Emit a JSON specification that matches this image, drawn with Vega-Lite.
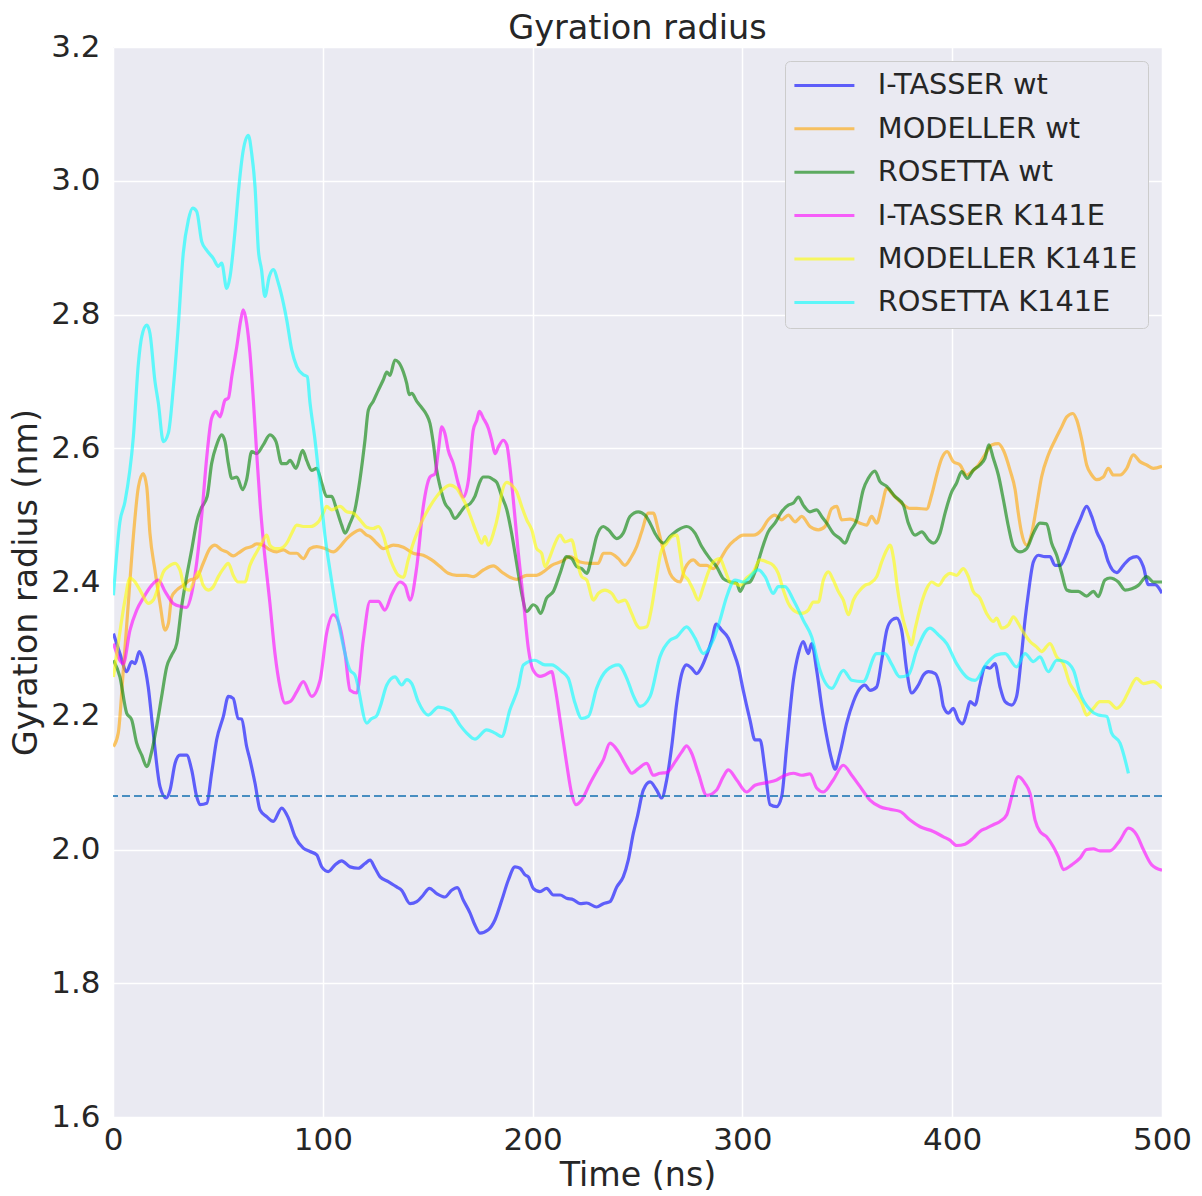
{
  "$schema": "https://vega.github.io/schema/vega-lite/v6.json",
  "width": 1049,
  "height": 1070,
  "autosize": {"type": "none"},
  "padding": {"left": 113, "top": 47, "right": 40, "bottom": 79},
  "background": "white",
  "title": {"text": "Gyration radius", "font": "DejaVu Sans", "fontSize": 33.5, "fontWeight": "normal", "color": "#262626", "offset": -15},
  "config": {
    "view": {"fill": "#EAEAF2", "stroke": null},
    "axis": {
      "domain": false, "ticks": false, "grid": true, "gridColor": "#ffffff", "gridWidth": 1.5,
      "labelFont": "DejaVu Sans", "labelFontSize": 31, "labelColor": "#262626", "labelFlush": false, "labelOverlap": false,
      "titleFont": "DejaVu Sans", "titleFontSize": 33.3, "titleFontWeight": "normal", "titleColor": "#262626"
    },
    "legend": {
      "orient": "top-right", "offset": 14, "padding": 10,
      "fillColor": "#EAEAF2", "strokeColor": "#cccccc", "cornerRadius": 5,
      "labelFont": "DejaVu Sans", "labelFontSize": 28.8, "labelColor": "#262626", "labelLimit": 500,
      "symbolType": "M-1.5,0H4.5", "symbolSize": 400, "symbolStrokeWidth": 3, "symbolOpacity": 0.6,
      "labelOffset": 54, "rowPadding": 13.4
    }
  },
  "datasets": {
    "rg": [
      {"model": "I-TASSER wt", "time": 0.2, "rg": 2.323}, {"model": "I-TASSER wt", "time": 3.3, "rg": 2.293}, {"model": "I-TASSER wt", "time": 6.5, "rg": 2.266}, {"model": "I-TASSER wt", "time": 8.9, "rg": 2.281}, {"model": "I-TASSER wt", "time": 10.5, "rg": 2.278}, {"model": "I-TASSER wt", "time": 12.5, "rg": 2.296}, {"model": "I-TASSER wt", "time": 14.4, "rg": 2.283}, {"model": "I-TASSER wt", "time": 16.8, "rg": 2.243}, {"model": "I-TASSER wt", "time": 19.2, "rg": 2.174}, {"model": "I-TASSER wt", "time": 22.4, "rg": 2.094}, {"model": "I-TASSER wt", "time": 25.3, "rg": 2.077}, {"model": "I-TASSER wt", "time": 27.2, "rg": 2.089}, {"model": "I-TASSER wt", "time": 29.6, "rg": 2.129}, {"model": "I-TASSER wt", "time": 31.9, "rg": 2.141}, {"model": "I-TASSER wt", "time": 35.1, "rg": 2.141}, {"model": "I-TASSER wt", "time": 37.5, "rg": 2.119}, {"model": "I-TASSER wt", "time": 39.9, "rg": 2.079}, {"model": "I-TASSER wt", "time": 41.5, "rg": 2.067}, {"model": "I-TASSER wt", "time": 44.7, "rg": 2.069}, {"model": "I-TASSER wt", "time": 47.0, "rg": 2.114}, {"model": "I-TASSER wt", "time": 49.4, "rg": 2.164}, {"model": "I-TASSER wt", "time": 52.6, "rg": 2.199}, {"model": "I-TASSER wt", "time": 55.0, "rg": 2.229}, {"model": "I-TASSER wt", "time": 57.3, "rg": 2.226}, {"model": "I-TASSER wt", "time": 59.7, "rg": 2.196}, {"model": "I-TASSER wt", "time": 61.3, "rg": 2.195}, {"model": "I-TASSER wt", "time": 63.7, "rg": 2.154}, {"model": "I-TASSER wt", "time": 65.3, "rg": 2.134}, {"model": "I-TASSER wt", "time": 67.7, "rg": 2.099}, {"model": "I-TASSER wt", "time": 70.1, "rg": 2.059}, {"model": "I-TASSER wt", "time": 73.3, "rg": 2.049}, {"model": "I-TASSER wt", "time": 76.4, "rg": 2.042}, {"model": "I-TASSER wt", "time": 80.4, "rg": 2.062}, {"model": "I-TASSER wt", "time": 83.6, "rg": 2.047}, {"model": "I-TASSER wt", "time": 86.8, "rg": 2.019}, {"model": "I-TASSER wt", "time": 90.7, "rg": 2.002}, {"model": "I-TASSER wt", "time": 93.9, "rg": 1.997}, {"model": "I-TASSER wt", "time": 97.1, "rg": 1.992}, {"model": "I-TASSER wt", "time": 99.5, "rg": 1.974}, {"model": "I-TASSER wt", "time": 102.6, "rg": 1.967}, {"model": "I-TASSER wt", "time": 105.8, "rg": 1.977}, {"model": "I-TASSER wt", "time": 109.0, "rg": 1.983}, {"model": "I-TASSER wt", "time": 113.0, "rg": 1.974}, {"model": "I-TASSER wt", "time": 116.9, "rg": 1.972}, {"model": "I-TASSER wt", "time": 120.1, "rg": 1.979}, {"model": "I-TASSER wt", "time": 122.5, "rg": 1.984}, {"model": "I-TASSER wt", "time": 124.9, "rg": 1.972}, {"model": "I-TASSER wt", "time": 127.3, "rg": 1.959}, {"model": "I-TASSER wt", "time": 131.2, "rg": 1.952}, {"model": "I-TASSER wt", "time": 135.2, "rg": 1.944}, {"model": "I-TASSER wt", "time": 137.6, "rg": 1.939}, {"model": "I-TASSER wt", "time": 141.6, "rg": 1.919}, {"model": "I-TASSER wt", "time": 144.8, "rg": 1.922}, {"model": "I-TASSER wt", "time": 147.9, "rg": 1.932}, {"model": "I-TASSER wt", "time": 150.8, "rg": 1.942}, {"model": "I-TASSER wt", "time": 154.3, "rg": 1.934}, {"model": "I-TASSER wt", "time": 158.2, "rg": 1.929}, {"model": "I-TASSER wt", "time": 161.4, "rg": 1.939}, {"model": "I-TASSER wt", "time": 164.1, "rg": 1.943}, {"model": "I-TASSER wt", "time": 167.0, "rg": 1.924}, {"model": "I-TASSER wt", "time": 170.2, "rg": 1.905}, {"model": "I-TASSER wt", "time": 172.5, "rg": 1.887}, {"model": "I-TASSER wt", "time": 174.9, "rg": 1.875}, {"model": "I-TASSER wt", "time": 178.9, "rg": 1.88}, {"model": "I-TASSER wt", "time": 182.1, "rg": 1.895}, {"model": "I-TASSER wt", "time": 185.3, "rg": 1.924}, {"model": "I-TASSER wt", "time": 188.4, "rg": 1.954}, {"model": "I-TASSER wt", "time": 191.6, "rg": 1.974}, {"model": "I-TASSER wt", "time": 194.0, "rg": 1.972}, {"model": "I-TASSER wt", "time": 196.4, "rg": 1.962}, {"model": "I-TASSER wt", "time": 198.0, "rg": 1.959}, {"model": "I-TASSER wt", "time": 200.3, "rg": 1.942}, {"model": "I-TASSER wt", "time": 203.5, "rg": 1.937}, {"model": "I-TASSER wt", "time": 206.7, "rg": 1.942}, {"model": "I-TASSER wt", "time": 209.9, "rg": 1.932}, {"model": "I-TASSER wt", "time": 213.1, "rg": 1.932}, {"model": "I-TASSER wt", "time": 216.2, "rg": 1.927}, {"model": "I-TASSER wt", "time": 219.4, "rg": 1.925}, {"model": "I-TASSER wt", "time": 222.6, "rg": 1.919}, {"model": "I-TASSER wt", "time": 225.8, "rg": 1.92}, {"model": "I-TASSER wt", "time": 230.5, "rg": 1.914}, {"model": "I-TASSER wt", "time": 233.7, "rg": 1.919}, {"model": "I-TASSER wt", "time": 236.9, "rg": 1.922}, {"model": "I-TASSER wt", "time": 240.1, "rg": 1.944}, {"model": "I-TASSER wt", "time": 243.2, "rg": 1.959}, {"model": "I-TASSER wt", "time": 245.6, "rg": 1.984}, {"model": "I-TASSER wt", "time": 248.0, "rg": 2.024}, {"model": "I-TASSER wt", "time": 250.0, "rg": 2.05}, {"model": "I-TASSER wt", "time": 252.8, "rg": 2.089}, {"model": "I-TASSER wt", "time": 256.0, "rg": 2.101}, {"model": "I-TASSER wt", "time": 259.1, "rg": 2.089}, {"model": "I-TASSER wt", "time": 261.5, "rg": 2.077}, {"model": "I-TASSER wt", "time": 263.9, "rg": 2.104}, {"model": "I-TASSER wt", "time": 266.3, "rg": 2.154}, {"model": "I-TASSER wt", "time": 268.7, "rg": 2.219}, {"model": "I-TASSER wt", "time": 271.1, "rg": 2.263}, {"model": "I-TASSER wt", "time": 273.4, "rg": 2.276}, {"model": "I-TASSER wt", "time": 275.8, "rg": 2.271}, {"model": "I-TASSER wt", "time": 278.2, "rg": 2.263}, {"model": "I-TASSER wt", "time": 280.6, "rg": 2.273}, {"model": "I-TASSER wt", "time": 283.0, "rg": 2.291}, {"model": "I-TASSER wt", "time": 285.4, "rg": 2.313}, {"model": "I-TASSER wt", "time": 287.5, "rg": 2.337}, {"model": "I-TASSER wt", "time": 290.1, "rg": 2.328}, {"model": "I-TASSER wt", "time": 293.3, "rg": 2.316}, {"model": "I-TASSER wt", "time": 295.7, "rg": 2.296}, {"model": "I-TASSER wt", "time": 298.1, "rg": 2.273}, {"model": "I-TASSER wt", "time": 300.4, "rg": 2.238}, {"model": "I-TASSER wt", "time": 303.6, "rg": 2.194}, {"model": "I-TASSER wt", "time": 306.0, "rg": 2.164}, {"model": "I-TASSER wt", "time": 308.4, "rg": 2.164}, {"model": "I-TASSER wt", "time": 310.8, "rg": 2.119}, {"model": "I-TASSER wt", "time": 313.2, "rg": 2.067}, {"model": "I-TASSER wt", "time": 316.3, "rg": 2.064}, {"model": "I-TASSER wt", "time": 318.7, "rg": 2.079}, {"model": "I-TASSER wt", "time": 321.1, "rg": 2.154}, {"model": "I-TASSER wt", "time": 324.3, "rg": 2.253}, {"model": "I-TASSER wt", "time": 326.7, "rg": 2.293}, {"model": "I-TASSER wt", "time": 329.0, "rg": 2.311}, {"model": "I-TASSER wt", "time": 331.4, "rg": 2.293}, {"model": "I-TASSER wt", "time": 333.0, "rg": 2.308}, {"model": "I-TASSER wt", "time": 335.4, "rg": 2.268}, {"model": "I-TASSER wt", "time": 337.8, "rg": 2.214}, {"model": "I-TASSER wt", "time": 340.2, "rg": 2.169}, {"model": "I-TASSER wt", "time": 342.6, "rg": 2.134}, {"model": "I-TASSER wt", "time": 344.1, "rg": 2.12}, {"model": "I-TASSER wt", "time": 346.5, "rg": 2.144}, {"model": "I-TASSER wt", "time": 349.7, "rg": 2.189}, {"model": "I-TASSER wt", "time": 352.9, "rg": 2.221}, {"model": "I-TASSER wt", "time": 356.1, "rg": 2.241}, {"model": "I-TASSER wt", "time": 358.4, "rg": 2.246}, {"model": "I-TASSER wt", "time": 360.8, "rg": 2.238}, {"model": "I-TASSER wt", "time": 364.0, "rg": 2.243}, {"model": "I-TASSER wt", "time": 366.4, "rg": 2.283}, {"model": "I-TASSER wt", "time": 368.8, "rg": 2.328}, {"model": "I-TASSER wt", "time": 371.2, "rg": 2.343}, {"model": "I-TASSER wt", "time": 373.5, "rg": 2.346}, {"model": "I-TASSER wt", "time": 375.9, "rg": 2.328}, {"model": "I-TASSER wt", "time": 378.3, "rg": 2.268}, {"model": "I-TASSER wt", "time": 380.7, "rg": 2.234}, {"model": "I-TASSER wt", "time": 383.9, "rg": 2.246}, {"model": "I-TASSER wt", "time": 386.3, "rg": 2.261}, {"model": "I-TASSER wt", "time": 388.7, "rg": 2.266}, {"model": "I-TASSER wt", "time": 391.9, "rg": 2.263}, {"model": "I-TASSER wt", "time": 394.2, "rg": 2.243}, {"model": "I-TASSER wt", "time": 395.8, "rg": 2.214}, {"model": "I-TASSER wt", "time": 398.2, "rg": 2.204}, {"model": "I-TASSER wt", "time": 400.5, "rg": 2.211}, {"model": "I-TASSER wt", "time": 402.9, "rg": 2.194}, {"model": "I-TASSER wt", "time": 405.0, "rg": 2.188}, {"model": "I-TASSER wt", "time": 406.9, "rg": 2.204}, {"model": "I-TASSER wt", "time": 408.5, "rg": 2.221}, {"model": "I-TASSER wt", "time": 410.9, "rg": 2.216}, {"model": "I-TASSER wt", "time": 413.2, "rg": 2.246}, {"model": "I-TASSER wt", "time": 415.6, "rg": 2.273}, {"model": "I-TASSER wt", "time": 418.0, "rg": 2.271}, {"model": "I-TASSER wt", "time": 420.4, "rg": 2.278}, {"model": "I-TASSER wt", "time": 422.8, "rg": 2.243}, {"model": "I-TASSER wt", "time": 425.2, "rg": 2.221}, {"model": "I-TASSER wt", "time": 428.4, "rg": 2.216}, {"model": "I-TASSER wt", "time": 430.7, "rg": 2.229}, {"model": "I-TASSER wt", "time": 433.1, "rg": 2.293}, {"model": "I-TASSER wt", "time": 434.7, "rg": 2.343}, {"model": "I-TASSER wt", "time": 436.3, "rg": 2.383}, {"model": "I-TASSER wt", "time": 438.7, "rg": 2.43}, {"model": "I-TASSER wt", "time": 441.1, "rg": 2.44}, {"model": "I-TASSER wt", "time": 444.2, "rg": 2.438}, {"model": "I-TASSER wt", "time": 446.6, "rg": 2.438}, {"model": "I-TASSER wt", "time": 449.0, "rg": 2.425}, {"model": "I-TASSER wt", "time": 451.4, "rg": 2.425}, {"model": "I-TASSER wt", "time": 454.6, "rg": 2.443}, {"model": "I-TASSER wt", "time": 457.7, "rg": 2.47}, {"model": "I-TASSER wt", "time": 460.9, "rg": 2.493}, {"model": "I-TASSER wt", "time": 464.1, "rg": 2.513}, {"model": "I-TASSER wt", "time": 466.5, "rg": 2.498}, {"model": "I-TASSER wt", "time": 468.9, "rg": 2.475}, {"model": "I-TASSER wt", "time": 472.0, "rg": 2.455}, {"model": "I-TASSER wt", "time": 474.4, "rg": 2.43}, {"model": "I-TASSER wt", "time": 478.4, "rg": 2.414}, {"model": "I-TASSER wt", "time": 481.6, "rg": 2.425}, {"model": "I-TASSER wt", "time": 484.7, "rg": 2.435}, {"model": "I-TASSER wt", "time": 487.9, "rg": 2.438}, {"model": "I-TASSER wt", "time": 491.1, "rg": 2.423}, {"model": "I-TASSER wt", "time": 493.5, "rg": 2.396}, {"model": "I-TASSER wt", "time": 496.7, "rg": 2.396}, {"model": "I-TASSER wt", "time": 500.0, "rg": 2.383},

      {"model": "MODELLER wt", "time": 0.2, "rg": 2.154}, {"model": "MODELLER wt", "time": 2.5, "rg": 2.174}, {"model": "MODELLER wt", "time": 4.9, "rg": 2.268}, {"model": "MODELLER wt", "time": 7.3, "rg": 2.368}, {"model": "MODELLER wt", "time": 9.7, "rg": 2.468}, {"model": "MODELLER wt", "time": 12.1, "rg": 2.542}, {"model": "MODELLER wt", "time": 14.4, "rg": 2.562}, {"model": "MODELLER wt", "time": 16.1, "rg": 2.542}, {"model": "MODELLER wt", "time": 17.6, "rg": 2.473}, {"model": "MODELLER wt", "time": 20.0, "rg": 2.418}, {"model": "MODELLER wt", "time": 22.4, "rg": 2.368}, {"model": "MODELLER wt", "time": 24.8, "rg": 2.328}, {"model": "MODELLER wt", "time": 26.4, "rg": 2.338}, {"model": "MODELLER wt", "time": 28.0, "rg": 2.378}, {"model": "MODELLER wt", "time": 30.4, "rg": 2.388}, {"model": "MODELLER wt", "time": 33.5, "rg": 2.395}, {"model": "MODELLER wt", "time": 36.7, "rg": 2.403}, {"model": "MODELLER wt", "time": 39.9, "rg": 2.406}, {"model": "MODELLER wt", "time": 43.0, "rg": 2.428}, {"model": "MODELLER wt", "time": 46.2, "rg": 2.45}, {"model": "MODELLER wt", "time": 48.6, "rg": 2.455}, {"model": "MODELLER wt", "time": 51.8, "rg": 2.448}, {"model": "MODELLER wt", "time": 54.2, "rg": 2.445}, {"model": "MODELLER wt", "time": 57.3, "rg": 2.439}, {"model": "MODELLER wt", "time": 59.7, "rg": 2.443}, {"model": "MODELLER wt", "time": 62.9, "rg": 2.45}, {"model": "MODELLER wt", "time": 66.1, "rg": 2.453}, {"model": "MODELLER wt", "time": 68.5, "rg": 2.457}, {"model": "MODELLER wt", "time": 71.6, "rg": 2.455}, {"model": "MODELLER wt", "time": 74.8, "rg": 2.448}, {"model": "MODELLER wt", "time": 78.0, "rg": 2.445}, {"model": "MODELLER wt", "time": 81.2, "rg": 2.448}, {"model": "MODELLER wt", "time": 84.4, "rg": 2.443}, {"model": "MODELLER wt", "time": 87.6, "rg": 2.443}, {"model": "MODELLER wt", "time": 90.7, "rg": 2.435}, {"model": "MODELLER wt", "time": 93.9, "rg": 2.45}, {"model": "MODELLER wt", "time": 97.1, "rg": 2.453}, {"model": "MODELLER wt", "time": 101.0, "rg": 2.45}, {"model": "MODELLER wt", "time": 105.0, "rg": 2.445}, {"model": "MODELLER wt", "time": 108.2, "rg": 2.453}, {"model": "MODELLER wt", "time": 111.4, "rg": 2.465}, {"model": "MODELLER wt", "time": 114.5, "rg": 2.473}, {"model": "MODELLER wt", "time": 117.7, "rg": 2.478}, {"model": "MODELLER wt", "time": 120.9, "rg": 2.47}, {"model": "MODELLER wt", "time": 122.5, "rg": 2.468}, {"model": "MODELLER wt", "time": 125.7, "rg": 2.458}, {"model": "MODELLER wt", "time": 128.8, "rg": 2.45}, {"model": "MODELLER wt", "time": 133.6, "rg": 2.455}, {"model": "MODELLER wt", "time": 138.4, "rg": 2.452}, {"model": "MODELLER wt", "time": 143.1, "rg": 2.443}, {"model": "MODELLER wt", "time": 147.9, "rg": 2.44}, {"model": "MODELLER wt", "time": 151.9, "rg": 2.433}, {"model": "MODELLER wt", "time": 155.9, "rg": 2.423}, {"model": "MODELLER wt", "time": 159.8, "rg": 2.413}, {"model": "MODELLER wt", "time": 163.8, "rg": 2.41}, {"model": "MODELLER wt", "time": 168.6, "rg": 2.41}, {"model": "MODELLER wt", "time": 171.7, "rg": 2.408}, {"model": "MODELLER wt", "time": 176.5, "rg": 2.418}, {"model": "MODELLER wt", "time": 181.3, "rg": 2.424}, {"model": "MODELLER wt", "time": 185.3, "rg": 2.415}, {"model": "MODELLER wt", "time": 189.2, "rg": 2.407}, {"model": "MODELLER wt", "time": 192.4, "rg": 2.404}, {"model": "MODELLER wt", "time": 197.2, "rg": 2.41}, {"model": "MODELLER wt", "time": 201.9, "rg": 2.41}, {"model": "MODELLER wt", "time": 205.1, "rg": 2.415}, {"model": "MODELLER wt", "time": 209.1, "rg": 2.425}, {"model": "MODELLER wt", "time": 213.9, "rg": 2.431}, {"model": "MODELLER wt", "time": 217.8, "rg": 2.438}, {"model": "MODELLER wt", "time": 222.6, "rg": 2.43}, {"model": "MODELLER wt", "time": 227.4, "rg": 2.428}, {"model": "MODELLER wt", "time": 231.3, "rg": 2.428}, {"model": "MODELLER wt", "time": 233.7, "rg": 2.443}, {"model": "MODELLER wt", "time": 236.9, "rg": 2.443}, {"model": "MODELLER wt", "time": 240.9, "rg": 2.435}, {"model": "MODELLER wt", "time": 244.0, "rg": 2.425}, {"model": "MODELLER wt", "time": 247.0, "rg": 2.437}, {"model": "MODELLER wt", "time": 249.6, "rg": 2.453}, {"model": "MODELLER wt", "time": 252.0, "rg": 2.475}, {"model": "MODELLER wt", "time": 255.2, "rg": 2.503}, {"model": "MODELLER wt", "time": 257.5, "rg": 2.503}, {"model": "MODELLER wt", "time": 259.9, "rg": 2.478}, {"model": "MODELLER wt", "time": 262.3, "rg": 2.448}, {"model": "MODELLER wt", "time": 265.5, "rg": 2.413}, {"model": "MODELLER wt", "time": 267.9, "rg": 2.403}, {"model": "MODELLER wt", "time": 270.3, "rg": 2.4}, {"model": "MODELLER wt", "time": 272.6, "rg": 2.42}, {"model": "MODELLER wt", "time": 276.6, "rg": 2.433}, {"model": "MODELLER wt", "time": 279.8, "rg": 2.425}, {"model": "MODELLER wt", "time": 283.0, "rg": 2.425}, {"model": "MODELLER wt", "time": 286.1, "rg": 2.42}, {"model": "MODELLER wt", "time": 289.3, "rg": 2.433}, {"model": "MODELLER wt", "time": 292.5, "rg": 2.45}, {"model": "MODELLER wt", "time": 296.5, "rg": 2.463}, {"model": "MODELLER wt", "time": 300.4, "rg": 2.47}, {"model": "MODELLER wt", "time": 305.2, "rg": 2.47}, {"model": "MODELLER wt", "time": 309.2, "rg": 2.478}, {"model": "MODELLER wt", "time": 312.3, "rg": 2.493}, {"model": "MODELLER wt", "time": 315.5, "rg": 2.5}, {"model": "MODELLER wt", "time": 318.7, "rg": 2.493}, {"model": "MODELLER wt", "time": 321.9, "rg": 2.5}, {"model": "MODELLER wt", "time": 325.1, "rg": 2.49}, {"model": "MODELLER wt", "time": 328.3, "rg": 2.498}, {"model": "MODELLER wt", "time": 332.2, "rg": 2.483}, {"model": "MODELLER wt", "time": 336.2, "rg": 2.478}, {"model": "MODELLER wt", "time": 339.4, "rg": 2.483}, {"model": "MODELLER wt", "time": 342.6, "rg": 2.51}, {"model": "MODELLER wt", "time": 345.0, "rg": 2.513}, {"model": "MODELLER wt", "time": 347.3, "rg": 2.493}, {"model": "MODELLER wt", "time": 351.3, "rg": 2.494}, {"model": "MODELLER wt", "time": 356.1, "rg": 2.488}, {"model": "MODELLER wt", "time": 359.2, "rg": 2.485}, {"model": "MODELLER wt", "time": 361.6, "rg": 2.498}, {"model": "MODELLER wt", "time": 364.0, "rg": 2.488}, {"model": "MODELLER wt", "time": 366.4, "rg": 2.513}, {"model": "MODELLER wt", "time": 368.8, "rg": 2.54}, {"model": "MODELLER wt", "time": 371.9, "rg": 2.53}, {"model": "MODELLER wt", "time": 375.9, "rg": 2.518}, {"model": "MODELLER wt", "time": 379.9, "rg": 2.51}, {"model": "MODELLER wt", "time": 383.1, "rg": 2.51}, {"model": "MODELLER wt", "time": 387.8, "rg": 2.509}, {"model": "MODELLER wt", "time": 390.2, "rg": 2.53}, {"model": "MODELLER wt", "time": 392.6, "rg": 2.56}, {"model": "MODELLER wt", "time": 395.0, "rg": 2.585}, {"model": "MODELLER wt", "time": 397.6, "rg": 2.595}, {"model": "MODELLER wt", "time": 400.5, "rg": 2.58}, {"model": "MODELLER wt", "time": 403.7, "rg": 2.575}, {"model": "MODELLER wt", "time": 406.9, "rg": 2.56}, {"model": "MODELLER wt", "time": 409.3, "rg": 2.565}, {"model": "MODELLER wt", "time": 412.5, "rg": 2.575}, {"model": "MODELLER wt", "time": 415.6, "rg": 2.59}, {"model": "MODELLER wt", "time": 418.8, "rg": 2.605}, {"model": "MODELLER wt", "time": 422.0, "rg": 2.607}, {"model": "MODELLER wt", "time": 424.4, "rg": 2.597}, {"model": "MODELLER wt", "time": 427.6, "rg": 2.567}, {"model": "MODELLER wt", "time": 430.0, "rg": 2.538}, {"model": "MODELLER wt", "time": 431.5, "rg": 2.503}, {"model": "MODELLER wt", "time": 433.1, "rg": 2.473}, {"model": "MODELLER wt", "time": 435.5, "rg": 2.455}, {"model": "MODELLER wt", "time": 437.9, "rg": 2.473}, {"model": "MODELLER wt", "time": 440.2, "rg": 2.513}, {"model": "MODELLER wt", "time": 442.6, "rg": 2.557}, {"model": "MODELLER wt", "time": 445.8, "rg": 2.59}, {"model": "MODELLER wt", "time": 449.0, "rg": 2.612}, {"model": "MODELLER wt", "time": 452.2, "rg": 2.632}, {"model": "MODELLER wt", "time": 454.6, "rg": 2.647}, {"model": "MODELLER wt", "time": 457.5, "rg": 2.652}, {"model": "MODELLER wt", "time": 459.4, "rg": 2.642}, {"model": "MODELLER wt", "time": 461.8, "rg": 2.612}, {"model": "MODELLER wt", "time": 464.1, "rg": 2.575}, {"model": "MODELLER wt", "time": 466.5, "rg": 2.56}, {"model": "MODELLER wt", "time": 468.9, "rg": 2.553}, {"model": "MODELLER wt", "time": 472.0, "rg": 2.557}, {"model": "MODELLER wt", "time": 474.4, "rg": 2.57}, {"model": "MODELLER wt", "time": 476.8, "rg": 2.56}, {"model": "MODELLER wt", "time": 480.0, "rg": 2.56}, {"model": "MODELLER wt", "time": 483.2, "rg": 2.57}, {"model": "MODELLER wt", "time": 486.3, "rg": 2.59}, {"model": "MODELLER wt", "time": 489.5, "rg": 2.58}, {"model": "MODELLER wt", "time": 492.7, "rg": 2.575}, {"model": "MODELLER wt", "time": 495.9, "rg": 2.57}, {"model": "MODELLER wt", "time": 500.0, "rg": 2.573},

      {"model": "ROSETTA wt", "time": 0.2, "rg": 2.283}, {"model": "ROSETTA wt", "time": 3.3, "rg": 2.258}, {"model": "ROSETTA wt", "time": 6.5, "rg": 2.204}, {"model": "ROSETTA wt", "time": 8.9, "rg": 2.194}, {"model": "ROSETTA wt", "time": 11.3, "rg": 2.159}, {"model": "ROSETTA wt", "time": 13.7, "rg": 2.141}, {"model": "ROSETTA wt", "time": 16.1, "rg": 2.124}, {"model": "ROSETTA wt", "time": 18.4, "rg": 2.146}, {"model": "ROSETTA wt", "time": 20.8, "rg": 2.184}, {"model": "ROSETTA wt", "time": 23.2, "rg": 2.229}, {"model": "ROSETTA wt", "time": 25.6, "rg": 2.273}, {"model": "ROSETTA wt", "time": 28.0, "rg": 2.291}, {"model": "ROSETTA wt", "time": 30.4, "rg": 2.308}, {"model": "ROSETTA wt", "time": 32.7, "rg": 2.363}, {"model": "ROSETTA wt", "time": 35.1, "rg": 2.408}, {"model": "ROSETTA wt", "time": 37.5, "rg": 2.448}, {"model": "ROSETTA wt", "time": 39.9, "rg": 2.49}, {"model": "ROSETTA wt", "time": 42.0, "rg": 2.51}, {"model": "ROSETTA wt", "time": 44.9, "rg": 2.528}, {"model": "ROSETTA wt", "time": 47.0, "rg": 2.577}, {"model": "ROSETTA wt", "time": 49.4, "rg": 2.605}, {"model": "ROSETTA wt", "time": 51.8, "rg": 2.62}, {"model": "ROSETTA wt", "time": 53.4, "rg": 2.61}, {"model": "ROSETTA wt", "time": 55.0, "rg": 2.577}, {"model": "ROSETTA wt", "time": 56.6, "rg": 2.555}, {"model": "ROSETTA wt", "time": 59.0, "rg": 2.557}, {"model": "ROSETTA wt", "time": 61.8, "rg": 2.538}, {"model": "ROSETTA wt", "time": 63.7, "rg": 2.553}, {"model": "ROSETTA wt", "time": 66.1, "rg": 2.595}, {"model": "ROSETTA wt", "time": 68.5, "rg": 2.592}, {"model": "ROSETTA wt", "time": 71.6, "rg": 2.605}, {"model": "ROSETTA wt", "time": 74.8, "rg": 2.62}, {"model": "ROSETTA wt", "time": 77.7, "rg": 2.61}, {"model": "ROSETTA wt", "time": 80.4, "rg": 2.577}, {"model": "ROSETTA wt", "time": 82.8, "rg": 2.577}, {"model": "ROSETTA wt", "time": 84.4, "rg": 2.582}, {"model": "ROSETTA wt", "time": 87.2, "rg": 2.57}, {"model": "ROSETTA wt", "time": 90.4, "rg": 2.597}, {"model": "ROSETTA wt", "time": 92.3, "rg": 2.582}, {"model": "ROSETTA wt", "time": 94.7, "rg": 2.567}, {"model": "ROSETTA wt", "time": 97.1, "rg": 2.57}, {"model": "ROSETTA wt", "time": 99.5, "rg": 2.548}, {"model": "ROSETTA wt", "time": 101.8, "rg": 2.528}, {"model": "ROSETTA wt", "time": 104.2, "rg": 2.528}, {"model": "ROSETTA wt", "time": 106.6, "rg": 2.508}, {"model": "ROSETTA wt", "time": 109.0, "rg": 2.485}, {"model": "ROSETTA wt", "time": 110.6, "rg": 2.473}, {"model": "ROSETTA wt", "time": 113.0, "rg": 2.488}, {"model": "ROSETTA wt", "time": 115.3, "rg": 2.508}, {"model": "ROSETTA wt", "time": 117.7, "rg": 2.553}, {"model": "ROSETTA wt", "time": 120.1, "rg": 2.612}, {"model": "ROSETTA wt", "time": 121.7, "rg": 2.657}, {"model": "ROSETTA wt", "time": 124.0, "rg": 2.67}, {"model": "ROSETTA wt", "time": 126.5, "rg": 2.687}, {"model": "ROSETTA wt", "time": 128.8, "rg": 2.702}, {"model": "ROSETTA wt", "time": 130.5, "rg": 2.714}, {"model": "ROSETTA wt", "time": 132.0, "rg": 2.709}, {"model": "ROSETTA wt", "time": 134.4, "rg": 2.732}, {"model": "ROSETTA wt", "time": 136.0, "rg": 2.729}, {"model": "ROSETTA wt", "time": 138.4, "rg": 2.714}, {"model": "ROSETTA wt", "time": 140.0, "rg": 2.697}, {"model": "ROSETTA wt", "time": 141.2, "rg": 2.68}, {"model": "ROSETTA wt", "time": 142.4, "rg": 2.682}, {"model": "ROSETTA wt", "time": 144.8, "rg": 2.67}, {"model": "ROSETTA wt", "time": 147.1, "rg": 2.661}, {"model": "ROSETTA wt", "time": 149.5, "rg": 2.65}, {"model": "ROSETTA wt", "time": 151.1, "rg": 2.637}, {"model": "ROSETTA wt", "time": 152.7, "rg": 2.607}, {"model": "ROSETTA wt", "time": 154.3, "rg": 2.567}, {"model": "ROSETTA wt", "time": 155.9, "rg": 2.543}, {"model": "ROSETTA wt", "time": 158.2, "rg": 2.518}, {"model": "ROSETTA wt", "time": 160.6, "rg": 2.508}, {"model": "ROSETTA wt", "time": 163.0, "rg": 2.495}, {"model": "ROSETTA wt", "time": 165.4, "rg": 2.503}, {"model": "ROSETTA wt", "time": 167.8, "rg": 2.513}, {"model": "ROSETTA wt", "time": 170.2, "rg": 2.517}, {"model": "ROSETTA wt", "time": 172.5, "rg": 2.528}, {"model": "ROSETTA wt", "time": 174.9, "rg": 2.55}, {"model": "ROSETTA wt", "time": 176.5, "rg": 2.557}, {"model": "ROSETTA wt", "time": 178.9, "rg": 2.557}, {"model": "ROSETTA wt", "time": 181.3, "rg": 2.553}, {"model": "ROSETTA wt", "time": 182.9, "rg": 2.549}, {"model": "ROSETTA wt", "time": 185.3, "rg": 2.528}, {"model": "ROSETTA wt", "time": 187.7, "rg": 2.508}, {"model": "ROSETTA wt", "time": 190.0, "rg": 2.473}, {"model": "ROSETTA wt", "time": 192.4, "rg": 2.428}, {"model": "ROSETTA wt", "time": 194.8, "rg": 2.383}, {"model": "ROSETTA wt", "time": 197.2, "rg": 2.356}, {"model": "ROSETTA wt", "time": 200.3, "rg": 2.366}, {"model": "ROSETTA wt", "time": 201.9, "rg": 2.363}, {"model": "ROSETTA wt", "time": 203.8, "rg": 2.353}, {"model": "ROSETTA wt", "time": 206.7, "rg": 2.376}, {"model": "ROSETTA wt", "time": 209.9, "rg": 2.386}, {"model": "ROSETTA wt", "time": 213.1, "rg": 2.413}, {"model": "ROSETTA wt", "time": 216.2, "rg": 2.438}, {"model": "ROSETTA wt", "time": 218.6, "rg": 2.435}, {"model": "ROSETTA wt", "time": 221.0, "rg": 2.423}, {"model": "ROSETTA wt", "time": 223.4, "rg": 2.42}, {"model": "ROSETTA wt", "time": 225.8, "rg": 2.413}, {"model": "ROSETTA wt", "time": 228.2, "rg": 2.438}, {"model": "ROSETTA wt", "time": 230.5, "rg": 2.468}, {"model": "ROSETTA wt", "time": 233.7, "rg": 2.483}, {"model": "ROSETTA wt", "time": 236.1, "rg": 2.478}, {"model": "ROSETTA wt", "time": 240.1, "rg": 2.465}, {"model": "ROSETTA wt", "time": 243.2, "rg": 2.473}, {"model": "ROSETTA wt", "time": 246.4, "rg": 2.498}, {"model": "ROSETTA wt", "time": 250.4, "rg": 2.505}, {"model": "ROSETTA wt", "time": 253.6, "rg": 2.5}, {"model": "ROSETTA wt", "time": 256.0, "rg": 2.488}, {"model": "ROSETTA wt", "time": 258.3, "rg": 2.473}, {"model": "ROSETTA wt", "time": 262.3, "rg": 2.458}, {"model": "ROSETTA wt", "time": 265.5, "rg": 2.468}, {"model": "ROSETTA wt", "time": 269.4, "rg": 2.478}, {"model": "ROSETTA wt", "time": 273.4, "rg": 2.483}, {"model": "ROSETTA wt", "time": 277.4, "rg": 2.473}, {"model": "ROSETTA wt", "time": 280.6, "rg": 2.453}, {"model": "ROSETTA wt", "time": 284.5, "rg": 2.435}, {"model": "ROSETTA wt", "time": 287.7, "rg": 2.423}, {"model": "ROSETTA wt", "time": 290.9, "rg": 2.405}, {"model": "ROSETTA wt", "time": 294.1, "rg": 2.4}, {"model": "ROSETTA wt", "time": 297.3, "rg": 2.398}, {"model": "ROSETTA wt", "time": 298.9, "rg": 2.386}, {"model": "ROSETTA wt", "time": 301.2, "rg": 2.398}, {"model": "ROSETTA wt", "time": 303.6, "rg": 2.4}, {"model": "ROSETTA wt", "time": 306.0, "rg": 2.415}, {"model": "ROSETTA wt", "time": 309.2, "rg": 2.448}, {"model": "ROSETTA wt", "time": 312.3, "rg": 2.475}, {"model": "ROSETTA wt", "time": 315.5, "rg": 2.488}, {"model": "ROSETTA wt", "time": 318.7, "rg": 2.505}, {"model": "ROSETTA wt", "time": 321.9, "rg": 2.515}, {"model": "ROSETTA wt", "time": 324.3, "rg": 2.518}, {"model": "ROSETTA wt", "time": 326.7, "rg": 2.527}, {"model": "ROSETTA wt", "time": 329.0, "rg": 2.515}, {"model": "ROSETTA wt", "time": 332.2, "rg": 2.505}, {"model": "ROSETTA wt", "time": 335.4, "rg": 2.508}, {"model": "ROSETTA wt", "time": 337.8, "rg": 2.498}, {"model": "ROSETTA wt", "time": 340.2, "rg": 2.488}, {"model": "ROSETTA wt", "time": 343.3, "rg": 2.473}, {"model": "ROSETTA wt", "time": 346.5, "rg": 2.465}, {"model": "ROSETTA wt", "time": 348.9, "rg": 2.458}, {"model": "ROSETTA wt", "time": 351.3, "rg": 2.475}, {"model": "ROSETTA wt", "time": 354.5, "rg": 2.493}, {"model": "ROSETTA wt", "time": 357.6, "rg": 2.538}, {"model": "ROSETTA wt", "time": 360.0, "rg": 2.555}, {"model": "ROSETTA wt", "time": 363.2, "rg": 2.566}, {"model": "ROSETTA wt", "time": 365.6, "rg": 2.55}, {"model": "ROSETTA wt", "time": 368.8, "rg": 2.543}, {"model": "ROSETTA wt", "time": 372.7, "rg": 2.528}, {"model": "ROSETTA wt", "time": 376.7, "rg": 2.515}, {"model": "ROSETTA wt", "time": 379.1, "rg": 2.488}, {"model": "ROSETTA wt", "time": 382.3, "rg": 2.47}, {"model": "ROSETTA wt", "time": 385.5, "rg": 2.475}, {"model": "ROSETTA wt", "time": 388.7, "rg": 2.463}, {"model": "ROSETTA wt", "time": 391.0, "rg": 2.458}, {"model": "ROSETTA wt", "time": 394.2, "rg": 2.473}, {"model": "ROSETTA wt", "time": 396.6, "rg": 2.503}, {"model": "ROSETTA wt", "time": 399.8, "rg": 2.535}, {"model": "ROSETTA wt", "time": 402.1, "rg": 2.548}, {"model": "ROSETTA wt", "time": 404.5, "rg": 2.565}, {"model": "ROSETTA wt", "time": 407.2, "rg": 2.555}, {"model": "ROSETTA wt", "time": 410.0, "rg": 2.567}, {"model": "ROSETTA wt", "time": 413.2, "rg": 2.575}, {"model": "ROSETTA wt", "time": 415.6, "rg": 2.585}, {"model": "ROSETTA wt", "time": 417.5, "rg": 2.605}, {"model": "ROSETTA wt", "time": 419.6, "rg": 2.585}, {"model": "ROSETTA wt", "time": 422.0, "rg": 2.56}, {"model": "ROSETTA wt", "time": 424.4, "rg": 2.523}, {"model": "ROSETTA wt", "time": 426.8, "rg": 2.483}, {"model": "ROSETTA wt", "time": 429.2, "rg": 2.453}, {"model": "ROSETTA wt", "time": 432.3, "rg": 2.445}, {"model": "ROSETTA wt", "time": 435.5, "rg": 2.45}, {"model": "ROSETTA wt", "time": 438.7, "rg": 2.473}, {"model": "ROSETTA wt", "time": 441.8, "rg": 2.488}, {"model": "ROSETTA wt", "time": 445.0, "rg": 2.487}, {"model": "ROSETTA wt", "time": 447.4, "rg": 2.458}, {"model": "ROSETTA wt", "time": 449.8, "rg": 2.44}, {"model": "ROSETTA wt", "time": 452.2, "rg": 2.413}, {"model": "ROSETTA wt", "time": 454.6, "rg": 2.388}, {"model": "ROSETTA wt", "time": 457.0, "rg": 2.386}, {"model": "ROSETTA wt", "time": 460.1, "rg": 2.386}, {"model": "ROSETTA wt", "time": 464.1, "rg": 2.379}, {"model": "ROSETTA wt", "time": 467.3, "rg": 2.386}, {"model": "ROSETTA wt", "time": 469.6, "rg": 2.378}, {"model": "ROSETTA wt", "time": 472.8, "rg": 2.403}, {"model": "ROSETTA wt", "time": 475.2, "rg": 2.406}, {"model": "ROSETTA wt", "time": 479.2, "rg": 2.4}, {"model": "ROSETTA wt", "time": 482.4, "rg": 2.388}, {"model": "ROSETTA wt", "time": 485.6, "rg": 2.39}, {"model": "ROSETTA wt", "time": 488.7, "rg": 2.395}, {"model": "ROSETTA wt", "time": 492.7, "rg": 2.408}, {"model": "ROSETTA wt", "time": 495.9, "rg": 2.4}, {"model": "ROSETTA wt", "time": 500.0, "rg": 2.4},

      {"model": "I-TASSER K141E", "time": 0.2, "rg": 2.308}, {"model": "I-TASSER K141E", "time": 4.9, "rg": 2.278}, {"model": "I-TASSER K141E", "time": 8.1, "rg": 2.328}, {"model": "I-TASSER K141E", "time": 11.3, "rg": 2.358}, {"model": "I-TASSER K141E", "time": 14.4, "rg": 2.376}, {"model": "I-TASSER K141E", "time": 18.4, "rg": 2.395}, {"model": "I-TASSER K141E", "time": 21.6, "rg": 2.403}, {"model": "I-TASSER K141E", "time": 24.8, "rg": 2.386}, {"model": "I-TASSER K141E", "time": 28.7, "rg": 2.368}, {"model": "I-TASSER K141E", "time": 32.7, "rg": 2.363}, {"model": "I-TASSER K141E", "time": 35.1, "rg": 2.362}, {"model": "I-TASSER K141E", "time": 37.5, "rg": 2.383}, {"model": "I-TASSER K141E", "time": 40.7, "rg": 2.45}, {"model": "I-TASSER K141E", "time": 42.3, "rg": 2.5}, {"model": "I-TASSER K141E", "time": 44.7, "rg": 2.587}, {"model": "I-TASSER K141E", "time": 47.0, "rg": 2.645}, {"model": "I-TASSER K141E", "time": 49.1, "rg": 2.655}, {"model": "I-TASSER K141E", "time": 51.0, "rg": 2.647}, {"model": "I-TASSER K141E", "time": 53.4, "rg": 2.672}, {"model": "I-TASSER K141E", "time": 55.0, "rg": 2.675}, {"model": "I-TASSER K141E", "time": 56.6, "rg": 2.707}, {"model": "I-TASSER K141E", "time": 59.0, "rg": 2.752}, {"model": "I-TASSER K141E", "time": 60.9, "rg": 2.792}, {"model": "I-TASSER K141E", "time": 62.1, "rg": 2.807}, {"model": "I-TASSER K141E", "time": 63.7, "rg": 2.787}, {"model": "I-TASSER K141E", "time": 65.3, "rg": 2.742}, {"model": "I-TASSER K141E", "time": 66.9, "rg": 2.672}, {"model": "I-TASSER K141E", "time": 68.5, "rg": 2.592}, {"model": "I-TASSER K141E", "time": 70.1, "rg": 2.518}, {"model": "I-TASSER K141E", "time": 71.6, "rg": 2.463}, {"model": "I-TASSER K141E", "time": 74.8, "rg": 2.368}, {"model": "I-TASSER K141E", "time": 77.2, "rg": 2.293}, {"model": "I-TASSER K141E", "time": 79.6, "rg": 2.243}, {"model": "I-TASSER K141E", "time": 82.0, "rg": 2.219}, {"model": "I-TASSER K141E", "time": 84.4, "rg": 2.221}, {"model": "I-TASSER K141E", "time": 87.6, "rg": 2.236}, {"model": "I-TASSER K141E", "time": 90.7, "rg": 2.251}, {"model": "I-TASSER K141E", "time": 94.7, "rg": 2.229}, {"model": "I-TASSER K141E", "time": 98.7, "rg": 2.253}, {"model": "I-TASSER K141E", "time": 101.8, "rg": 2.323}, {"model": "I-TASSER K141E", "time": 105.0, "rg": 2.351}, {"model": "I-TASSER K141E", "time": 108.2, "rg": 2.333}, {"model": "I-TASSER K141E", "time": 110.6, "rg": 2.293}, {"model": "I-TASSER K141E", "time": 113.0, "rg": 2.238}, {"model": "I-TASSER K141E", "time": 116.2, "rg": 2.234}, {"model": "I-TASSER K141E", "time": 119.3, "rg": 2.313}, {"model": "I-TASSER K141E", "time": 122.5, "rg": 2.371}, {"model": "I-TASSER K141E", "time": 126.5, "rg": 2.371}, {"model": "I-TASSER K141E", "time": 129.6, "rg": 2.358}, {"model": "I-TASSER K141E", "time": 132.8, "rg": 2.381}, {"model": "I-TASSER K141E", "time": 136.8, "rg": 2.4}, {"model": "I-TASSER K141E", "time": 139.2, "rg": 2.395}, {"model": "I-TASSER K141E", "time": 141.6, "rg": 2.373}, {"model": "I-TASSER K141E", "time": 144.8, "rg": 2.423}, {"model": "I-TASSER K141E", "time": 147.9, "rg": 2.513}, {"model": "I-TASSER K141E", "time": 151.1, "rg": 2.557}, {"model": "I-TASSER K141E", "time": 153.5, "rg": 2.562}, {"model": "I-TASSER K141E", "time": 155.1, "rg": 2.597}, {"model": "I-TASSER K141E", "time": 156.7, "rg": 2.632}, {"model": "I-TASSER K141E", "time": 158.2, "rg": 2.622}, {"model": "I-TASSER K141E", "time": 159.8, "rg": 2.597}, {"model": "I-TASSER K141E", "time": 162.2, "rg": 2.577}, {"model": "I-TASSER K141E", "time": 164.6, "rg": 2.547}, {"model": "I-TASSER K141E", "time": 167.0, "rg": 2.527}, {"model": "I-TASSER K141E", "time": 169.4, "rg": 2.552}, {"model": "I-TASSER K141E", "time": 171.7, "rg": 2.627}, {"model": "I-TASSER K141E", "time": 173.4, "rg": 2.642}, {"model": "I-TASSER K141E", "time": 174.6, "rg": 2.655}, {"model": "I-TASSER K141E", "time": 176.5, "rg": 2.645}, {"model": "I-TASSER K141E", "time": 178.9, "rg": 2.63}, {"model": "I-TASSER K141E", "time": 180.5, "rg": 2.612}, {"model": "I-TASSER K141E", "time": 182.1, "rg": 2.592}, {"model": "I-TASSER K141E", "time": 183.7, "rg": 2.602}, {"model": "I-TASSER K141E", "time": 186.0, "rg": 2.612}, {"model": "I-TASSER K141E", "time": 187.7, "rg": 2.605}, {"model": "I-TASSER K141E", "time": 189.2, "rg": 2.572}, {"model": "I-TASSER K141E", "time": 190.8, "rg": 2.523}, {"model": "I-TASSER K141E", "time": 193.2, "rg": 2.443}, {"model": "I-TASSER K141E", "time": 195.6, "rg": 2.373}, {"model": "I-TASSER K141E", "time": 198.0, "rg": 2.3}, {"model": "I-TASSER K141E", "time": 200.3, "rg": 2.268}, {"model": "I-TASSER K141E", "time": 203.5, "rg": 2.259}, {"model": "I-TASSER K141E", "time": 205.9, "rg": 2.261}, {"model": "I-TASSER K141E", "time": 209.1, "rg": 2.266}, {"model": "I-TASSER K141E", "time": 210.7, "rg": 2.243}, {"model": "I-TASSER K141E", "time": 213.1, "rg": 2.194}, {"model": "I-TASSER K141E", "time": 216.2, "rg": 2.129}, {"model": "I-TASSER K141E", "time": 218.6, "rg": 2.084}, {"model": "I-TASSER K141E", "time": 220.7, "rg": 2.067}, {"model": "I-TASSER K141E", "time": 223.4, "rg": 2.074}, {"model": "I-TASSER K141E", "time": 227.4, "rg": 2.099}, {"model": "I-TASSER K141E", "time": 231.3, "rg": 2.121}, {"model": "I-TASSER K141E", "time": 233.7, "rg": 2.134}, {"model": "I-TASSER K141E", "time": 236.9, "rg": 2.159}, {"model": "I-TASSER K141E", "time": 240.9, "rg": 2.146}, {"model": "I-TASSER K141E", "time": 244.9, "rg": 2.124}, {"model": "I-TASSER K141E", "time": 247.2, "rg": 2.114}, {"model": "I-TASSER K141E", "time": 250.4, "rg": 2.121}, {"model": "I-TASSER K141E", "time": 254.4, "rg": 2.129}, {"model": "I-TASSER K141E", "time": 257.5, "rg": 2.111}, {"model": "I-TASSER K141E", "time": 260.7, "rg": 2.114}, {"model": "I-TASSER K141E", "time": 263.9, "rg": 2.115}, {"model": "I-TASSER K141E", "time": 267.9, "rg": 2.131}, {"model": "I-TASSER K141E", "time": 271.1, "rg": 2.146}, {"model": "I-TASSER K141E", "time": 273.4, "rg": 2.155}, {"model": "I-TASSER K141E", "time": 275.8, "rg": 2.144}, {"model": "I-TASSER K141E", "time": 279.0, "rg": 2.114}, {"model": "I-TASSER K141E", "time": 283.0, "rg": 2.081}, {"model": "I-TASSER K141E", "time": 287.7, "rg": 2.089}, {"model": "I-TASSER K141E", "time": 290.9, "rg": 2.109}, {"model": "I-TASSER K141E", "time": 293.3, "rg": 2.119}, {"model": "I-TASSER K141E", "time": 297.3, "rg": 2.104}, {"model": "I-TASSER K141E", "time": 302.0, "rg": 2.086}, {"model": "I-TASSER K141E", "time": 306.0, "rg": 2.096}, {"model": "I-TASSER K141E", "time": 311.6, "rg": 2.1}, {"model": "I-TASSER K141E", "time": 316.3, "rg": 2.104}, {"model": "I-TASSER K141E", "time": 320.3, "rg": 2.111}, {"model": "I-TASSER K141E", "time": 324.3, "rg": 2.114}, {"model": "I-TASSER K141E", "time": 328.3, "rg": 2.111}, {"model": "I-TASSER K141E", "time": 332.2, "rg": 2.113}, {"model": "I-TASSER K141E", "time": 335.4, "rg": 2.092}, {"model": "I-TASSER K141E", "time": 338.6, "rg": 2.086}, {"model": "I-TASSER K141E", "time": 343.3, "rg": 2.104}, {"model": "I-TASSER K141E", "time": 348.1, "rg": 2.126}, {"model": "I-TASSER K141E", "time": 352.1, "rg": 2.111}, {"model": "I-TASSER K141E", "time": 356.1, "rg": 2.094}, {"model": "I-TASSER K141E", "time": 360.8, "rg": 2.074}, {"model": "I-TASSER K141E", "time": 365.6, "rg": 2.064}, {"model": "I-TASSER K141E", "time": 370.4, "rg": 2.06}, {"model": "I-TASSER K141E", "time": 375.1, "rg": 2.057}, {"model": "I-TASSER K141E", "time": 379.9, "rg": 2.044}, {"model": "I-TASSER K141E", "time": 384.7, "rg": 2.034}, {"model": "I-TASSER K141E", "time": 391.0, "rg": 2.027}, {"model": "I-TASSER K141E", "time": 395.8, "rg": 2.019}, {"model": "I-TASSER K141E", "time": 398.9, "rg": 2.014}, {"model": "I-TASSER K141E", "time": 402.1, "rg": 2.006}, {"model": "I-TASSER K141E", "time": 406.1, "rg": 2.008}, {"model": "I-TASSER K141E", "time": 410.0, "rg": 2.017}, {"model": "I-TASSER K141E", "time": 413.2, "rg": 2.027}, {"model": "I-TASSER K141E", "time": 416.4, "rg": 2.032}, {"model": "I-TASSER K141E", "time": 419.6, "rg": 2.037}, {"model": "I-TASSER K141E", "time": 422.8, "rg": 2.042}, {"model": "I-TASSER K141E", "time": 426.0, "rg": 2.052}, {"model": "I-TASSER K141E", "time": 428.4, "rg": 2.079}, {"model": "I-TASSER K141E", "time": 431.5, "rg": 2.109}, {"model": "I-TASSER K141E", "time": 434.7, "rg": 2.099}, {"model": "I-TASSER K141E", "time": 437.1, "rg": 2.084}, {"model": "I-TASSER K141E", "time": 439.5, "rg": 2.044}, {"model": "I-TASSER K141E", "time": 441.8, "rg": 2.027}, {"model": "I-TASSER K141E", "time": 445.0, "rg": 2.019}, {"model": "I-TASSER K141E", "time": 448.2, "rg": 2.004}, {"model": "I-TASSER K141E", "time": 450.6, "rg": 1.989}, {"model": "I-TASSER K141E", "time": 453.0, "rg": 1.97}, {"model": "I-TASSER K141E", "time": 457.0, "rg": 1.977}, {"model": "I-TASSER K141E", "time": 460.9, "rg": 1.987}, {"model": "I-TASSER K141E", "time": 464.1, "rg": 2.0}, {"model": "I-TASSER K141E", "time": 467.3, "rg": 2.001}, {"model": "I-TASSER K141E", "time": 470.4, "rg": 1.998}, {"model": "I-TASSER K141E", "time": 475.2, "rg": 1.998}, {"model": "I-TASSER K141E", "time": 480.0, "rg": 2.014}, {"model": "I-TASSER K141E", "time": 484.0, "rg": 2.032}, {"model": "I-TASSER K141E", "time": 487.9, "rg": 2.022}, {"model": "I-TASSER K141E", "time": 491.1, "rg": 2.0}, {"model": "I-TASSER K141E", "time": 495.1, "rg": 1.977}, {"model": "I-TASSER K141E", "time": 500.0, "rg": 1.969},

      {"model": "MODELLER K141E", "time": 0.2, "rg": 2.258}, {"model": "MODELLER K141E", "time": 2.5, "rg": 2.308}, {"model": "MODELLER K141E", "time": 5.7, "rg": 2.373}, {"model": "MODELLER K141E", "time": 8.1, "rg": 2.406}, {"model": "MODELLER K141E", "time": 10.5, "rg": 2.4}, {"model": "MODELLER K141E", "time": 13.7, "rg": 2.383}, {"model": "MODELLER K141E", "time": 16.8, "rg": 2.368}, {"model": "MODELLER K141E", "time": 19.2, "rg": 2.373}, {"model": "MODELLER K141E", "time": 21.6, "rg": 2.393}, {"model": "MODELLER K141E", "time": 24.0, "rg": 2.415}, {"model": "MODELLER K141E", "time": 26.4, "rg": 2.423}, {"model": "MODELLER K141E", "time": 29.6, "rg": 2.428}, {"model": "MODELLER K141E", "time": 31.9, "rg": 2.418}, {"model": "MODELLER K141E", "time": 34.3, "rg": 2.39}, {"model": "MODELLER K141E", "time": 36.4, "rg": 2.388}, {"model": "MODELLER K141E", "time": 39.1, "rg": 2.406}, {"model": "MODELLER K141E", "time": 40.7, "rg": 2.415}, {"model": "MODELLER K141E", "time": 43.0, "rg": 2.395}, {"model": "MODELLER K141E", "time": 45.4, "rg": 2.388}, {"model": "MODELLER K141E", "time": 47.8, "rg": 2.393}, {"model": "MODELLER K141E", "time": 50.2, "rg": 2.408}, {"model": "MODELLER K141E", "time": 52.6, "rg": 2.42}, {"model": "MODELLER K141E", "time": 55.0, "rg": 2.428}, {"model": "MODELLER K141E", "time": 57.3, "rg": 2.41}, {"model": "MODELLER K141E", "time": 59.7, "rg": 2.4}, {"model": "MODELLER K141E", "time": 62.9, "rg": 2.4}, {"model": "MODELLER K141E", "time": 65.3, "rg": 2.425}, {"model": "MODELLER K141E", "time": 68.5, "rg": 2.445}, {"model": "MODELLER K141E", "time": 70.9, "rg": 2.458}, {"model": "MODELLER K141E", "time": 73.3, "rg": 2.47}, {"model": "MODELLER K141E", "time": 74.8, "rg": 2.455}, {"model": "MODELLER K141E", "time": 77.2, "rg": 2.45}, {"model": "MODELLER K141E", "time": 79.6, "rg": 2.45}, {"model": "MODELLER K141E", "time": 82.8, "rg": 2.458}, {"model": "MODELLER K141E", "time": 85.2, "rg": 2.473}, {"model": "MODELLER K141E", "time": 87.6, "rg": 2.485}, {"model": "MODELLER K141E", "time": 90.7, "rg": 2.483}, {"model": "MODELLER K141E", "time": 93.9, "rg": 2.483}, {"model": "MODELLER K141E", "time": 97.9, "rg": 2.49}, {"model": "MODELLER K141E", "time": 100.2, "rg": 2.503}, {"model": "MODELLER K141E", "time": 101.8, "rg": 2.513}, {"model": "MODELLER K141E", "time": 104.2, "rg": 2.508}, {"model": "MODELLER K141E", "time": 108.2, "rg": 2.513}, {"model": "MODELLER K141E", "time": 111.4, "rg": 2.505}, {"model": "MODELLER K141E", "time": 114.5, "rg": 2.503}, {"model": "MODELLER K141E", "time": 117.7, "rg": 2.493}, {"model": "MODELLER K141E", "time": 120.9, "rg": 2.482}, {"model": "MODELLER K141E", "time": 124.0, "rg": 2.48}, {"model": "MODELLER K141E", "time": 126.5, "rg": 2.483}, {"model": "MODELLER K141E", "time": 128.8, "rg": 2.47}, {"model": "MODELLER K141E", "time": 131.2, "rg": 2.443}, {"model": "MODELLER K141E", "time": 133.6, "rg": 2.423}, {"model": "MODELLER K141E", "time": 136.0, "rg": 2.41}, {"model": "MODELLER K141E", "time": 138.4, "rg": 2.407}, {"model": "MODELLER K141E", "time": 140.7, "rg": 2.433}, {"model": "MODELLER K141E", "time": 143.1, "rg": 2.458}, {"model": "MODELLER K141E", "time": 145.5, "rg": 2.478}, {"model": "MODELLER K141E", "time": 147.9, "rg": 2.495}, {"model": "MODELLER K141E", "time": 151.1, "rg": 2.513}, {"model": "MODELLER K141E", "time": 154.3, "rg": 2.528}, {"model": "MODELLER K141E", "time": 157.4, "rg": 2.539}, {"model": "MODELLER K141E", "time": 160.6, "rg": 2.545}, {"model": "MODELLER K141E", "time": 163.8, "rg": 2.54}, {"model": "MODELLER K141E", "time": 166.2, "rg": 2.528}, {"model": "MODELLER K141E", "time": 168.6, "rg": 2.513}, {"model": "MODELLER K141E", "time": 171.0, "rg": 2.493}, {"model": "MODELLER K141E", "time": 173.4, "rg": 2.473}, {"model": "MODELLER K141E", "time": 175.8, "rg": 2.458}, {"model": "MODELLER K141E", "time": 177.3, "rg": 2.468}, {"model": "MODELLER K141E", "time": 178.9, "rg": 2.455}, {"model": "MODELLER K141E", "time": 181.3, "rg": 2.473}, {"model": "MODELLER K141E", "time": 183.7, "rg": 2.503}, {"model": "MODELLER K141E", "time": 185.3, "rg": 2.533}, {"model": "MODELLER K141E", "time": 187.7, "rg": 2.549}, {"model": "MODELLER K141E", "time": 190.0, "rg": 2.545}, {"model": "MODELLER K141E", "time": 192.4, "rg": 2.535}, {"model": "MODELLER K141E", "time": 194.8, "rg": 2.513}, {"model": "MODELLER K141E", "time": 197.2, "rg": 2.493}, {"model": "MODELLER K141E", "time": 199.6, "rg": 2.478}, {"model": "MODELLER K141E", "time": 201.9, "rg": 2.45}, {"model": "MODELLER K141E", "time": 204.3, "rg": 2.443}, {"model": "MODELLER K141E", "time": 205.9, "rg": 2.423}, {"model": "MODELLER K141E", "time": 208.3, "rg": 2.438}, {"model": "MODELLER K141E", "time": 210.7, "rg": 2.458}, {"model": "MODELLER K141E", "time": 213.1, "rg": 2.47}, {"model": "MODELLER K141E", "time": 215.5, "rg": 2.46}, {"model": "MODELLER K141E", "time": 218.6, "rg": 2.463}, {"model": "MODELLER K141E", "time": 221.0, "rg": 2.433}, {"model": "MODELLER K141E", "time": 223.4, "rg": 2.408}, {"model": "MODELLER K141E", "time": 225.8, "rg": 2.403}, {"model": "MODELLER K141E", "time": 229.0, "rg": 2.373}, {"model": "MODELLER K141E", "time": 231.3, "rg": 2.383}, {"model": "MODELLER K141E", "time": 234.5, "rg": 2.388}, {"model": "MODELLER K141E", "time": 237.7, "rg": 2.383}, {"model": "MODELLER K141E", "time": 240.9, "rg": 2.37}, {"model": "MODELLER K141E", "time": 244.0, "rg": 2.373}, {"model": "MODELLER K141E", "time": 247.2, "rg": 2.353}, {"model": "MODELLER K141E", "time": 249.6, "rg": 2.336}, {"model": "MODELLER K141E", "time": 251.2, "rg": 2.331}, {"model": "MODELLER K141E", "time": 254.4, "rg": 2.333}, {"model": "MODELLER K141E", "time": 256.8, "rg": 2.363}, {"model": "MODELLER K141E", "time": 259.1, "rg": 2.408}, {"model": "MODELLER K141E", "time": 261.5, "rg": 2.448}, {"model": "MODELLER K141E", "time": 263.9, "rg": 2.458}, {"model": "MODELLER K141E", "time": 266.3, "rg": 2.468}, {"model": "MODELLER K141E", "time": 268.7, "rg": 2.47}, {"model": "MODELLER K141E", "time": 270.3, "rg": 2.443}, {"model": "MODELLER K141E", "time": 271.8, "rg": 2.413}, {"model": "MODELLER K141E", "time": 274.2, "rg": 2.403}, {"model": "MODELLER K141E", "time": 276.6, "rg": 2.388}, {"model": "MODELLER K141E", "time": 279.0, "rg": 2.373}, {"model": "MODELLER K141E", "time": 281.4, "rg": 2.393}, {"model": "MODELLER K141E", "time": 283.8, "rg": 2.415}, {"model": "MODELLER K141E", "time": 286.1, "rg": 2.43}, {"model": "MODELLER K141E", "time": 289.3, "rg": 2.435}, {"model": "MODELLER K141E", "time": 291.7, "rg": 2.418}, {"model": "MODELLER K141E", "time": 294.1, "rg": 2.4}, {"model": "MODELLER K141E", "time": 296.5, "rg": 2.398}, {"model": "MODELLER K141E", "time": 298.9, "rg": 2.395}, {"model": "MODELLER K141E", "time": 302.0, "rg": 2.406}, {"model": "MODELLER K141E", "time": 305.2, "rg": 2.415}, {"model": "MODELLER K141E", "time": 308.4, "rg": 2.433}, {"model": "MODELLER K141E", "time": 311.6, "rg": 2.43}, {"model": "MODELLER K141E", "time": 314.7, "rg": 2.425}, {"model": "MODELLER K141E", "time": 317.1, "rg": 2.413}, {"model": "MODELLER K141E", "time": 319.5, "rg": 2.388}, {"model": "MODELLER K141E", "time": 321.9, "rg": 2.368}, {"model": "MODELLER K141E", "time": 325.1, "rg": 2.356}, {"model": "MODELLER K141E", "time": 328.3, "rg": 2.353}, {"model": "MODELLER K141E", "time": 331.4, "rg": 2.358}, {"model": "MODELLER K141E", "time": 333.8, "rg": 2.37}, {"model": "MODELLER K141E", "time": 336.2, "rg": 2.37}, {"model": "MODELLER K141E", "time": 338.6, "rg": 2.403}, {"model": "MODELLER K141E", "time": 341.0, "rg": 2.415}, {"model": "MODELLER K141E", "time": 343.3, "rg": 2.403}, {"model": "MODELLER K141E", "time": 345.7, "rg": 2.386}, {"model": "MODELLER K141E", "time": 348.1, "rg": 2.373}, {"model": "MODELLER K141E", "time": 350.5, "rg": 2.351}, {"model": "MODELLER K141E", "time": 352.9, "rg": 2.373}, {"model": "MODELLER K141E", "time": 356.1, "rg": 2.388}, {"model": "MODELLER K141E", "time": 358.4, "rg": 2.395}, {"model": "MODELLER K141E", "time": 360.8, "rg": 2.398}, {"model": "MODELLER K141E", "time": 364.0, "rg": 2.408}, {"model": "MODELLER K141E", "time": 366.4, "rg": 2.43}, {"model": "MODELLER K141E", "time": 368.8, "rg": 2.448}, {"model": "MODELLER K141E", "time": 370.4, "rg": 2.455}, {"model": "MODELLER K141E", "time": 372.3, "rg": 2.43}, {"model": "MODELLER K141E", "time": 373.8, "rg": 2.393}, {"model": "MODELLER K141E", "time": 376.7, "rg": 2.343}, {"model": "MODELLER K141E", "time": 379.1, "rg": 2.318}, {"model": "MODELLER K141E", "time": 380.5, "rg": 2.306}, {"model": "MODELLER K141E", "time": 382.3, "rg": 2.33}, {"model": "MODELLER K141E", "time": 385.5, "rg": 2.37}, {"model": "MODELLER K141E", "time": 387.8, "rg": 2.39}, {"model": "MODELLER K141E", "time": 390.2, "rg": 2.4}, {"model": "MODELLER K141E", "time": 393.4, "rg": 2.395}, {"model": "MODELLER K141E", "time": 396.6, "rg": 2.408}, {"model": "MODELLER K141E", "time": 398.9, "rg": 2.413}, {"model": "MODELLER K141E", "time": 402.1, "rg": 2.41}, {"model": "MODELLER K141E", "time": 405.3, "rg": 2.42}, {"model": "MODELLER K141E", "time": 407.7, "rg": 2.408}, {"model": "MODELLER K141E", "time": 410.0, "rg": 2.386}, {"model": "MODELLER K141E", "time": 413.2, "rg": 2.376}, {"model": "MODELLER K141E", "time": 416.4, "rg": 2.353}, {"model": "MODELLER K141E", "time": 419.6, "rg": 2.341}, {"model": "MODELLER K141E", "time": 421.2, "rg": 2.346}, {"model": "MODELLER K141E", "time": 423.6, "rg": 2.331}, {"model": "MODELLER K141E", "time": 426.8, "rg": 2.336}, {"model": "MODELLER K141E", "time": 429.2, "rg": 2.348}, {"model": "MODELLER K141E", "time": 431.5, "rg": 2.338}, {"model": "MODELLER K141E", "time": 433.9, "rg": 2.325}, {"model": "MODELLER K141E", "time": 437.1, "rg": 2.311}, {"model": "MODELLER K141E", "time": 440.2, "rg": 2.303}, {"model": "MODELLER K141E", "time": 442.6, "rg": 2.296}, {"model": "MODELLER K141E", "time": 446.6, "rg": 2.308}, {"model": "MODELLER K141E", "time": 449.8, "rg": 2.288}, {"model": "MODELLER K141E", "time": 452.9, "rg": 2.278}, {"model": "MODELLER K141E", "time": 456.1, "rg": 2.248}, {"model": "MODELLER K141E", "time": 458.5, "rg": 2.236}, {"model": "MODELLER K141E", "time": 461.7, "rg": 2.219}, {"model": "MODELLER K141E", "time": 464.1, "rg": 2.201}, {"model": "MODELLER K141E", "time": 467.3, "rg": 2.211}, {"model": "MODELLER K141E", "time": 470.4, "rg": 2.221}, {"model": "MODELLER K141E", "time": 474.4, "rg": 2.221}, {"model": "MODELLER K141E", "time": 478.4, "rg": 2.211}, {"model": "MODELLER K141E", "time": 481.6, "rg": 2.221}, {"model": "MODELLER K141E", "time": 484.0, "rg": 2.236}, {"model": "MODELLER K141E", "time": 487.9, "rg": 2.256}, {"model": "MODELLER K141E", "time": 491.1, "rg": 2.248}, {"model": "MODELLER K141E", "time": 495.9, "rg": 2.251}, {"model": "MODELLER K141E", "time": 500.0, "rg": 2.241},

      {"model": "ROSETTA K141E", "time": 0.2, "rg": 2.38}, {"model": "ROSETTA K141E", "time": 3.3, "rg": 2.49}, {"model": "ROSETTA K141E", "time": 5.7, "rg": 2.52}, {"model": "ROSETTA K141E", "time": 9.7, "rg": 2.617}, {"model": "ROSETTA K141E", "time": 12.1, "rg": 2.727}, {"model": "ROSETTA K141E", "time": 13.7, "rg": 2.767}, {"model": "ROSETTA K141E", "time": 16.1, "rg": 2.784}, {"model": "ROSETTA K141E", "time": 17.6, "rg": 2.772}, {"model": "ROSETTA K141E", "time": 20.0, "rg": 2.7}, {"model": "ROSETTA K141E", "time": 21.6, "rg": 2.668}, {"model": "ROSETTA K141E", "time": 24.0, "rg": 2.61}, {"model": "ROSETTA K141E", "time": 26.4, "rg": 2.623}, {"model": "ROSETTA K141E", "time": 28.8, "rg": 2.692}, {"model": "ROSETTA K141E", "time": 31.1, "rg": 2.782}, {"model": "ROSETTA K141E", "time": 33.5, "rg": 2.892}, {"model": "ROSETTA K141E", "time": 35.9, "rg": 2.941}, {"model": "ROSETTA K141E", "time": 38.0, "rg": 2.959}, {"model": "ROSETTA K141E", "time": 39.9, "rg": 2.954}, {"model": "ROSETTA K141E", "time": 42.3, "rg": 2.909}, {"model": "ROSETTA K141E", "time": 44.7, "rg": 2.896}, {"model": "ROSETTA K141E", "time": 47.8, "rg": 2.884}, {"model": "ROSETTA K141E", "time": 50.2, "rg": 2.872}, {"model": "ROSETTA K141E", "time": 51.8, "rg": 2.877}, {"model": "ROSETTA K141E", "time": 54.2, "rg": 2.839}, {"model": "ROSETTA K141E", "time": 55.8, "rg": 2.857}, {"model": "ROSETTA K141E", "time": 58.2, "rg": 2.926}, {"model": "ROSETTA K141E", "time": 59.7, "rg": 2.981}, {"model": "ROSETTA K141E", "time": 62.1, "rg": 3.046}, {"model": "ROSETTA K141E", "time": 64.5, "rg": 3.068}, {"model": "ROSETTA K141E", "time": 66.1, "rg": 3.041}, {"model": "ROSETTA K141E", "time": 67.7, "rg": 2.991}, {"model": "ROSETTA K141E", "time": 69.3, "rg": 2.896}, {"model": "ROSETTA K141E", "time": 70.8, "rg": 2.867}, {"model": "ROSETTA K141E", "time": 72.4, "rg": 2.827}, {"model": "ROSETTA K141E", "time": 74.5, "rg": 2.857}, {"model": "ROSETTA K141E", "time": 76.4, "rg": 2.867}, {"model": "ROSETTA K141E", "time": 78.8, "rg": 2.847}, {"model": "ROSETTA K141E", "time": 81.2, "rg": 2.817}, {"model": "ROSETTA K141E", "time": 82.8, "rg": 2.792}, {"model": "ROSETTA K141E", "time": 85.2, "rg": 2.747}, {"model": "ROSETTA K141E", "time": 87.6, "rg": 2.722}, {"model": "ROSETTA K141E", "time": 90.7, "rg": 2.71}, {"model": "ROSETTA K141E", "time": 92.6, "rg": 2.707}, {"model": "ROSETTA K141E", "time": 93.9, "rg": 2.668}, {"model": "ROSETTA K141E", "time": 96.3, "rg": 2.612}, {"model": "ROSETTA K141E", "time": 98.7, "rg": 2.542}, {"model": "ROSETTA K141E", "time": 101.0, "rg": 2.47}, {"model": "ROSETTA K141E", "time": 103.4, "rg": 2.418}, {"model": "ROSETTA K141E", "time": 108.2, "rg": 2.328}, {"model": "ROSETTA K141E", "time": 113.0, "rg": 2.268}, {"model": "ROSETTA K141E", "time": 115.3, "rg": 2.261}, {"model": "ROSETTA K141E", "time": 121.0, "rg": 2.189}, {"model": "ROSETTA K141E", "time": 123.0, "rg": 2.195}, {"model": "ROSETTA K141E", "time": 125.7, "rg": 2.2}, {"model": "ROSETTA K141E", "time": 127.5, "rg": 2.215}, {"model": "ROSETTA K141E", "time": 130.5, "rg": 2.246}, {"model": "ROSETTA K141E", "time": 134.4, "rg": 2.258}, {"model": "ROSETTA K141E", "time": 137.6, "rg": 2.246}, {"model": "ROSETTA K141E", "time": 140.0, "rg": 2.254}, {"model": "ROSETTA K141E", "time": 142.4, "rg": 2.248}, {"model": "ROSETTA K141E", "time": 145.5, "rg": 2.221}, {"model": "ROSETTA K141E", "time": 150.3, "rg": 2.201}, {"model": "ROSETTA K141E", "time": 155.1, "rg": 2.213}, {"model": "ROSETTA K141E", "time": 160.6, "rg": 2.208}, {"model": "ROSETTA K141E", "time": 165.4, "rg": 2.186}, {"model": "ROSETTA K141E", "time": 168.6, "rg": 2.174}, {"model": "ROSETTA K141E", "time": 172.5, "rg": 2.165}, {"model": "ROSETTA K141E", "time": 178.1, "rg": 2.179}, {"model": "ROSETTA K141E", "time": 182.1, "rg": 2.174}, {"model": "ROSETTA K141E", "time": 185.3, "rg": 2.169}, {"model": "ROSETTA K141E", "time": 189.2, "rg": 2.209}, {"model": "ROSETTA K141E", "time": 193.2, "rg": 2.243}, {"model": "ROSETTA K141E", "time": 195.6, "rg": 2.276}, {"model": "ROSETTA K141E", "time": 201.1, "rg": 2.283}, {"model": "ROSETTA K141E", "time": 205.9, "rg": 2.276}, {"model": "ROSETTA K141E", "time": 209.1, "rg": 2.276}, {"model": "ROSETTA K141E", "time": 213.9, "rg": 2.266}, {"model": "ROSETTA K141E", "time": 217.0, "rg": 2.256}, {"model": "ROSETTA K141E", "time": 220.2, "rg": 2.219}, {"model": "ROSETTA K141E", "time": 223.4, "rg": 2.196}, {"model": "ROSETTA K141E", "time": 226.6, "rg": 2.199}, {"model": "ROSETTA K141E", "time": 230.5, "rg": 2.241}, {"model": "ROSETTA K141E", "time": 235.3, "rg": 2.268}, {"model": "ROSETTA K141E", "time": 240.9, "rg": 2.276}, {"model": "ROSETTA K141E", "time": 244.9, "rg": 2.256}, {"model": "ROSETTA K141E", "time": 248.0, "rg": 2.23}, {"model": "ROSETTA K141E", "time": 251.2, "rg": 2.214}, {"model": "ROSETTA K141E", "time": 256.0, "rg": 2.229}, {"model": "ROSETTA K141E", "time": 260.7, "rg": 2.288}, {"model": "ROSETTA K141E", "time": 265.5, "rg": 2.313}, {"model": "ROSETTA K141E", "time": 268.7, "rg": 2.318}, {"model": "ROSETTA K141E", "time": 273.4, "rg": 2.333}, {"model": "ROSETTA K141E", "time": 277.4, "rg": 2.316}, {"model": "ROSETTA K141E", "time": 281.4, "rg": 2.293}, {"model": "ROSETTA K141E", "time": 286.1, "rg": 2.313}, {"model": "ROSETTA K141E", "time": 289.3, "rg": 2.343}, {"model": "ROSETTA K141E", "time": 292.5, "rg": 2.378}, {"model": "ROSETTA K141E", "time": 296.5, "rg": 2.403}, {"model": "ROSETTA K141E", "time": 300.4, "rg": 2.4}, {"model": "ROSETTA K141E", "time": 307.6, "rg": 2.418}, {"model": "ROSETTA K141E", "time": 310.8, "rg": 2.408}, {"model": "ROSETTA K141E", "time": 314.7, "rg": 2.383}, {"model": "ROSETTA K141E", "time": 317.1, "rg": 2.393}, {"model": "ROSETTA K141E", "time": 320.3, "rg": 2.393}, {"model": "ROSETTA K141E", "time": 324.3, "rg": 2.373}, {"model": "ROSETTA K141E", "time": 327.5, "rg": 2.353}, {"model": "ROSETTA K141E", "time": 329.0, "rg": 2.343}, {"model": "ROSETTA K141E", "time": 333.0, "rg": 2.318}, {"model": "ROSETTA K141E", "time": 337.0, "rg": 2.268}, {"model": "ROSETTA K141E", "time": 342.6, "rg": 2.241}, {"model": "ROSETTA K141E", "time": 348.1, "rg": 2.268}, {"model": "ROSETTA K141E", "time": 352.1, "rg": 2.253}, {"model": "ROSETTA K141E", "time": 357.6, "rg": 2.251}, {"model": "ROSETTA K141E", "time": 364.0, "rg": 2.293}, {"model": "ROSETTA K141E", "time": 368.0, "rg": 2.293}, {"model": "ROSETTA K141E", "time": 371.0, "rg": 2.278}, {"model": "ROSETTA K141E", "time": 375.1, "rg": 2.258}, {"model": "ROSETTA K141E", "time": 379.1, "rg": 2.261}, {"model": "ROSETTA K141E", "time": 383.1, "rg": 2.298}, {"model": "ROSETTA K141E", "time": 389.4, "rg": 2.331}, {"model": "ROSETTA K141E", "time": 393.4, "rg": 2.321}, {"model": "ROSETTA K141E", "time": 397.4, "rg": 2.308}, {"model": "ROSETTA K141E", "time": 402.1, "rg": 2.278}, {"model": "ROSETTA K141E", "time": 407.7, "rg": 2.256}, {"model": "ROSETTA K141E", "time": 410.9, "rg": 2.253}, {"model": "ROSETTA K141E", "time": 416.4, "rg": 2.278}, {"model": "ROSETTA K141E", "time": 421.2, "rg": 2.291}, {"model": "ROSETTA K141E", "time": 425.2, "rg": 2.293}, {"model": "ROSETTA K141E", "time": 430.7, "rg": 2.273}, {"model": "ROSETTA K141E", "time": 434.7, "rg": 2.293}, {"model": "ROSETTA K141E", "time": 438.7, "rg": 2.281}, {"model": "ROSETTA K141E", "time": 441.8, "rg": 2.288}, {"model": "ROSETTA K141E", "time": 445.8, "rg": 2.266}, {"model": "ROSETTA K141E", "time": 449.8, "rg": 2.283}, {"model": "ROSETTA K141E", "time": 453.8, "rg": 2.281}, {"model": "ROSETTA K141E", "time": 457.8, "rg": 2.268}, {"model": "ROSETTA K141E", "time": 460.9, "rg": 2.234}, {"model": "ROSETTA K141E", "time": 465.7, "rg": 2.209}, {"model": "ROSETTA K141E", "time": 469.6, "rg": 2.201}, {"model": "ROSETTA K141E", "time": 473.7, "rg": 2.199}, {"model": "ROSETTA K141E", "time": 476.0, "rg": 2.174}, {"model": "ROSETTA K141E", "time": 480.0, "rg": 2.159}, {"model": "ROSETTA K141E", "time": 484.0, "rg": 2.114}
    ],
    "reference": [{"level": 2.08}]
  },
  "layer": [
    {
      "data": {"name": "rg"},
      "mark": {"type": "line", "strokeWidth": 3.2, "opacity": 0.6, "interpolate": "monotone", "clip": true},
      "encoding": {
        "x": {
          "field": "time", "type": "quantitative", "title": "Time (ns)",
          "scale": {"domain": [0, 500], "nice": false, "zero": false},
          "axis": {"values": [0, 100, 200, 300, 400, 500], "format": "d", "labelPadding": 8, "titlePadding": 4}
        },
        "y": {
          "field": "rg", "type": "quantitative", "title": "Gyration radius (nm)",
          "scale": {"domain": [1.6, 3.2], "nice": false, "zero": false},
          "axis": {"values": [1.6, 1.8, 2.0, 2.2, 2.4, 2.6, 2.8, 3.0, 3.2], "format": ".1f", "labelPadding": 13, "titlePadding": 7}
        },
        "color": {
          "field": "model", "type": "nominal",
          "scale": {
            "domain": ["I-TASSER wt", "MODELLER wt", "ROSETTA wt", "I-TASSER K141E", "MODELLER K141E", "ROSETTA K141E"],
            "range": ["#0000ff", "#ffa500", "#008000", "#ff00ff", "#ffff00", "#00ffff"]
          },
          "legend": {"title": null}
        }
      }
    },
    {
      "data": {"name": "reference"},
      "mark": {"type": "rule", "color": "#1f77b4", "strokeWidth": 2, "strokeDash": [8, 4], "opacity": 0.8},
      "encoding": {
        "y": {"field": "level", "type": "quantitative"}
      }
    }
  ]
}
